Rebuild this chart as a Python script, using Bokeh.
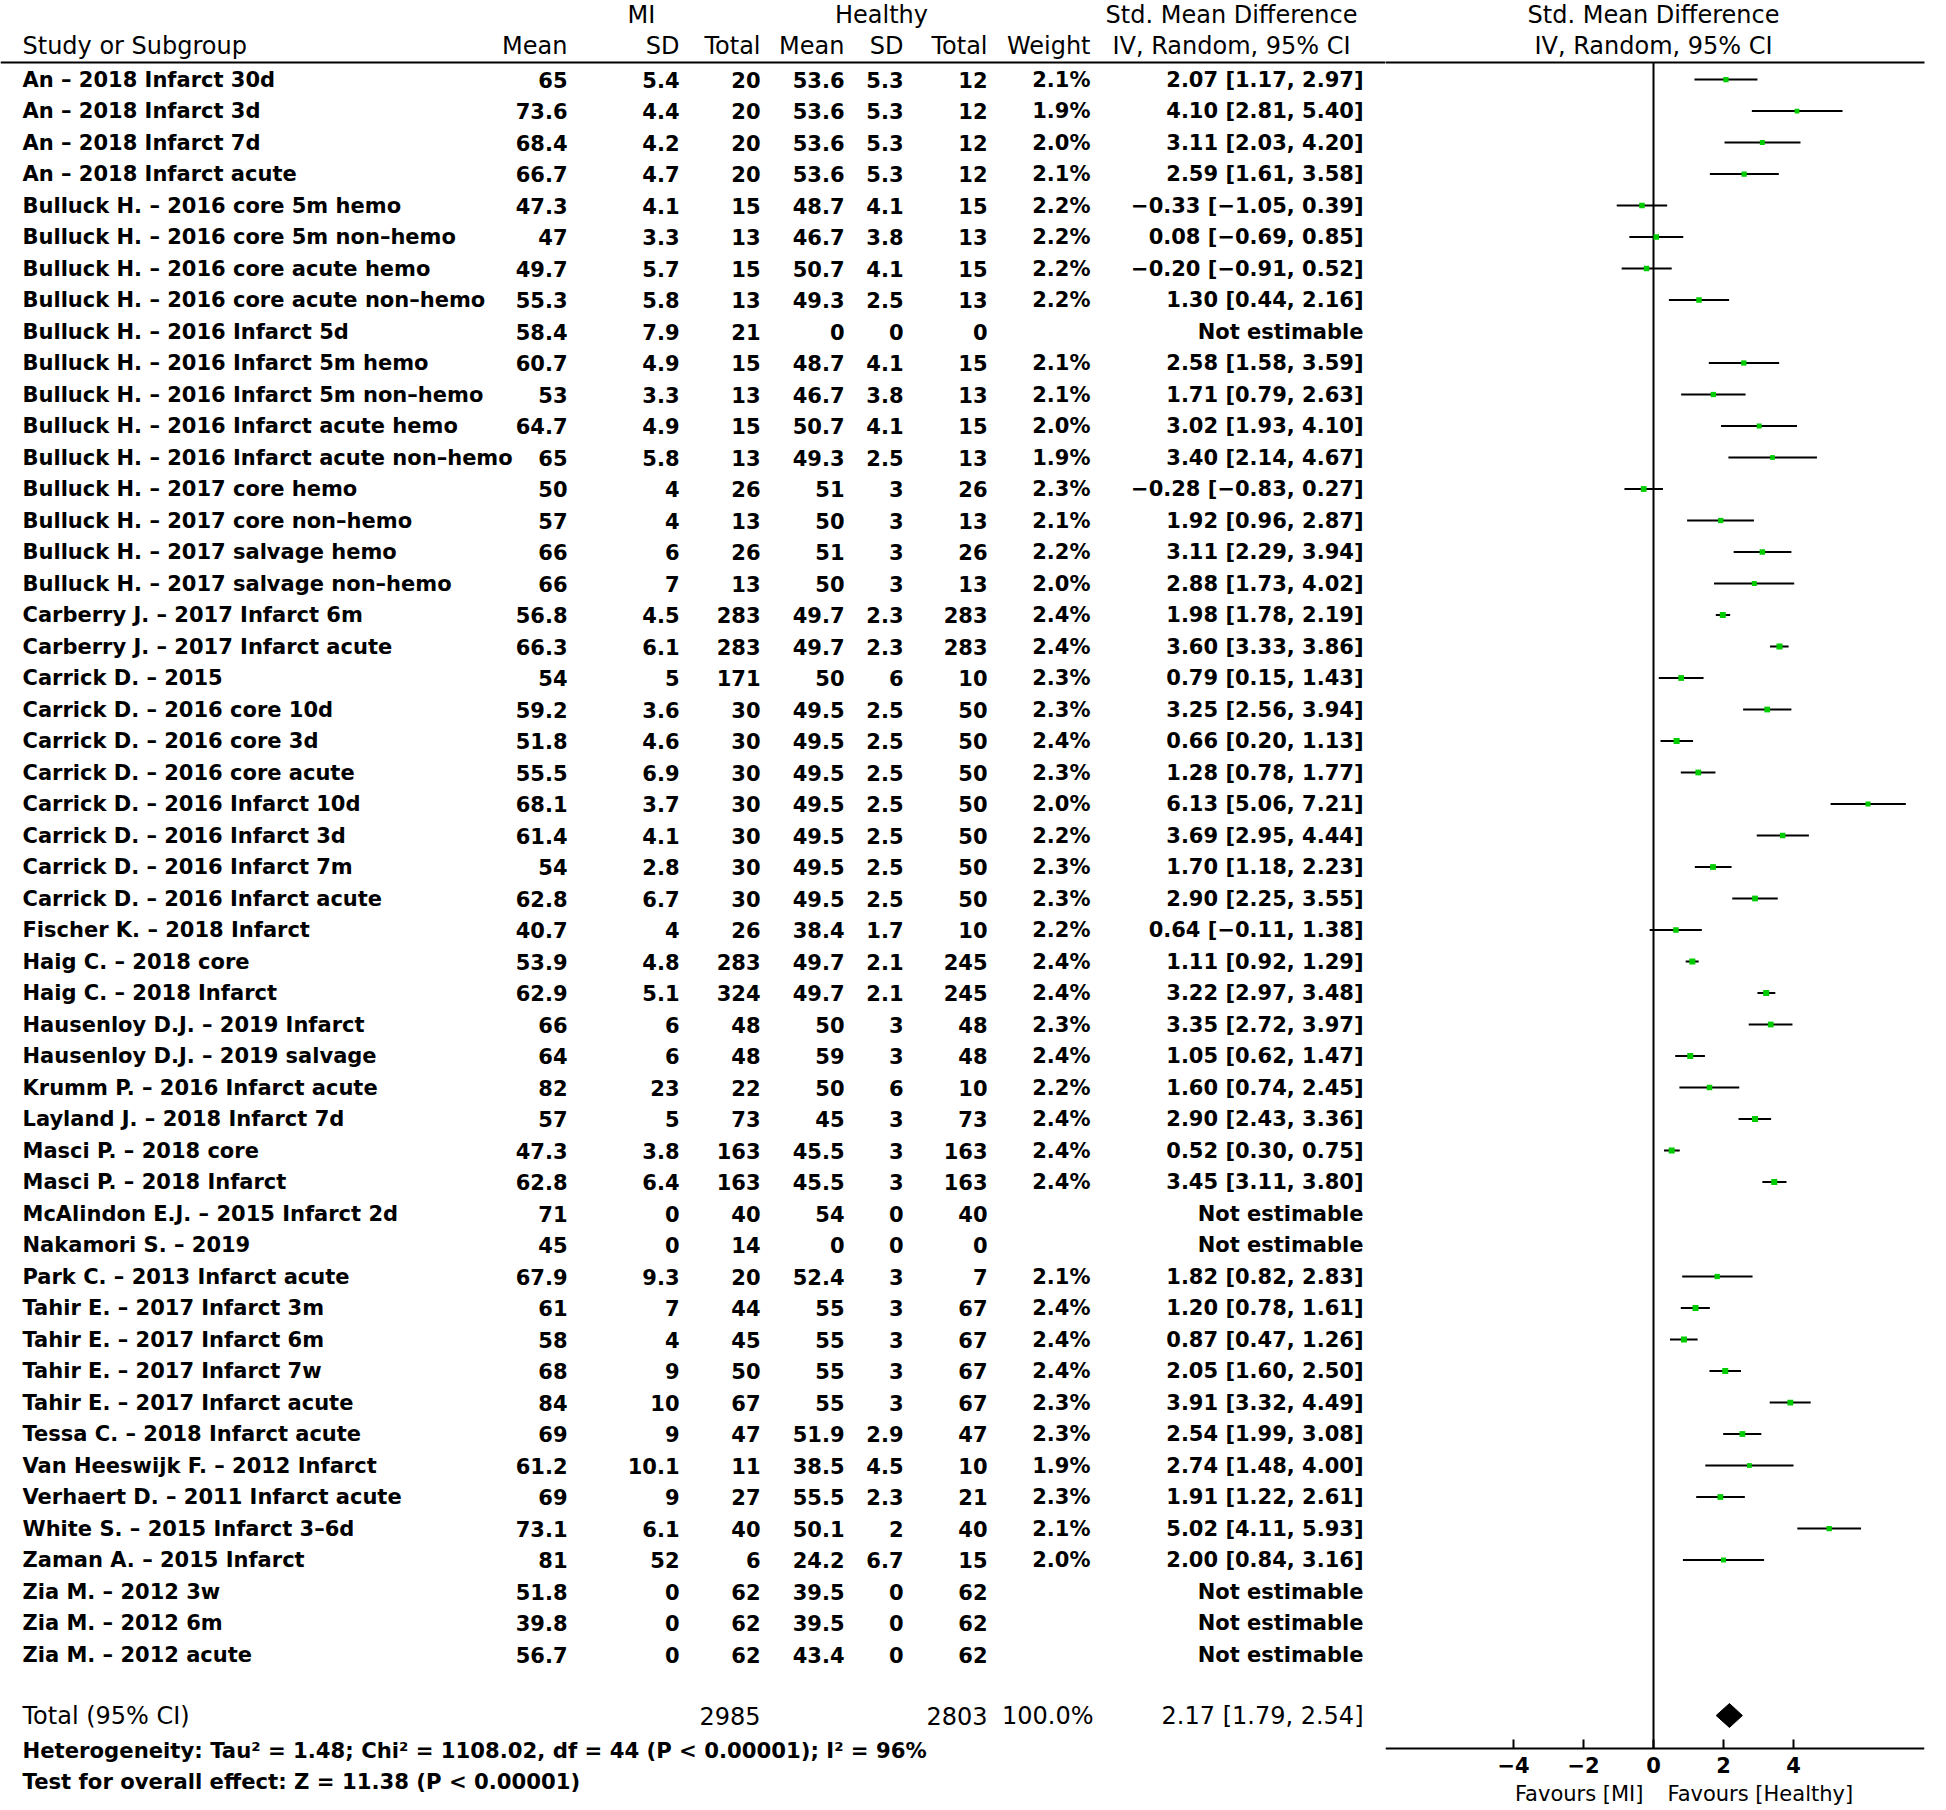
from bokeh.plotting import figure
from bokeh.models import ColumnDataSource, Range1d, FixedTicker, CustomJSTickFormatter
from bokeh.layouts import row
from bokeh.core.properties import value
from bokeh.embed import file_html
from bokeh.resources import INLINE

# ---------------- data ----------------
studies = [
    "An – 2018 Infarct 30d", "An – 2018 Infarct 3d", "An – 2018 Infarct 7d", "An – 2018 Infarct acute",
    "Bulluck H. – 2016 core 5m hemo", "Bulluck H. – 2016 core 5m non–hemo",
    "Bulluck H. – 2016 core acute hemo", "Bulluck H. – 2016 core acute non–hemo",
    "Bulluck H. – 2016 Infarct 5d", "Bulluck H. – 2016 Infarct 5m hemo",
    "Bulluck H. – 2016 Infarct 5m non–hemo", "Bulluck H. – 2016 Infarct acute hemo",
    "Bulluck H. – 2016 Infarct acute non–hemo", "Bulluck H. – 2017 core hemo",
    "Bulluck H. – 2017 core non–hemo", "Bulluck H. – 2017 salvage hemo",
    "Bulluck H. – 2017 salvage non–hemo", "Carberry J. – 2017 Infarct 6m",
    "Carberry J. – 2017 Infarct acute", "Carrick D. – 2015", "Carrick D. – 2016 core 10d",
    "Carrick D. – 2016 core 3d", "Carrick D. – 2016 core acute", "Carrick D. – 2016 Infarct 10d",
    "Carrick D. – 2016 Infarct 3d", "Carrick D. – 2016 Infarct 7m", "Carrick D. – 2016 Infarct acute",
    "Fischer K. – 2018 Infarct", "Haig C. – 2018 core", "Haig C. – 2018 Infarct",
    "Hausenloy D.J. – 2019 Infarct", "Hausenloy D.J. – 2019 salvage", "Krumm P. – 2016 Infarct acute",
    "Layland J. – 2018 Infarct 7d", "Masci P. – 2018 core", "Masci P. – 2018 Infarct",
    "McAlindon E.J. – 2015 Infarct 2d", "Nakamori S. – 2019", "Park C. – 2013 Infarct acute",
    "Tahir E. – 2017 Infarct 3m", "Tahir E. – 2017 Infarct 6m", "Tahir E. – 2017 Infarct 7w",
    "Tahir E. – 2017 Infarct acute", "Tessa C. – 2018 Infarct acute", "Van Heeswijk F. – 2012 Infarct",
    "Verhaert D. – 2011 Infarct acute", "White S. – 2015 Infarct 3–6d", "Zaman A. – 2015 Infarct",
    "Zia M. – 2012 3w", "Zia M. – 2012 6m", "Zia M. – 2012 acute",
]
mi_mean = [65, 73.6, 68.4, 66.7, 47.3, 47, 49.7, 55.3, 58.4, 60.7, 53, 64.7, 65, 50, 57, 66, 66,
           56.8, 66.3, 54, 59.2, 51.8, 55.5, 68.1, 61.4, 54, 62.8, 40.7, 53.9, 62.9, 66, 64, 82, 57,
           47.3, 62.8, 71, 45, 67.9, 61, 58, 68, 84, 69, 61.2, 69, 73.1, 81, 51.8, 39.8, 56.7]
mi_sd = [5.4, 4.4, 4.2, 4.7, 4.1, 3.3, 5.7, 5.8, 7.9, 4.9, 3.3, 4.9, 5.8, 4, 4, 6, 7,
         4.5, 6.1, 5, 3.6, 4.6, 6.9, 3.7, 4.1, 2.8, 6.7, 4, 4.8, 5.1, 6, 6, 23, 5,
         3.8, 6.4, 0, 0, 9.3, 7, 4, 9, 10, 9, 10.1, 9, 6.1, 52, 0, 0, 0]
mi_total = [20, 20, 20, 20, 15, 13, 15, 13, 21, 15, 13, 15, 13, 26, 13, 26, 13,
            283, 283, 171, 30, 30, 30, 30, 30, 30, 30, 26, 283, 324, 48, 48, 22, 73,
            163, 163, 40, 14, 20, 44, 45, 50, 67, 47, 11, 27, 40, 6, 62, 62, 62]
h_mean = [53.6, 53.6, 53.6, 53.6, 48.7, 46.7, 50.7, 49.3, 0, 48.7, 46.7, 50.7, 49.3, 51, 50, 51, 50,
          49.7, 49.7, 50, 49.5, 49.5, 49.5, 49.5, 49.5, 49.5, 49.5, 38.4, 49.7, 49.7, 50, 59, 50, 45,
          45.5, 45.5, 54, 0, 52.4, 55, 55, 55, 55, 51.9, 38.5, 55.5, 50.1, 24.2, 39.5, 39.5, 43.4]
h_sd = [5.3, 5.3, 5.3, 5.3, 4.1, 3.8, 4.1, 2.5, 0, 4.1, 3.8, 4.1, 2.5, 3, 3, 3, 3,
        2.3, 2.3, 6, 2.5, 2.5, 2.5, 2.5, 2.5, 2.5, 2.5, 1.7, 2.1, 2.1, 3, 3, 6, 3,
        3, 3, 0, 0, 3, 3, 3, 3, 3, 2.9, 4.5, 2.3, 2, 6.7, 0, 0, 0]
h_total = [12, 12, 12, 12, 15, 13, 15, 13, 0, 15, 13, 15, 13, 26, 13, 26, 13,
           283, 283, 10, 50, 50, 50, 50, 50, 50, 50, 10, 245, 245, 48, 48, 10, 73,
           163, 163, 40, 0, 7, 67, 67, 67, 67, 47, 10, 21, 40, 15, 62, 62, 62]
weight = [2.1, 1.9, 2.0, 2.1, 2.2, 2.2, 2.2, 2.2, None, 2.1, 2.1, 2.0, 1.9, 2.3, 2.1, 2.2, 2.0,
          2.4, 2.4, 2.3, 2.3, 2.4, 2.3, 2.0, 2.2, 2.3, 2.3, 2.2, 2.4, 2.4, 2.3, 2.4, 2.2, 2.4,
          2.4, 2.4, None, None, 2.1, 2.4, 2.4, 2.4, 2.3, 2.3, 1.9, 2.3, 2.1, 2.0, None, None, None]
smd = [2.07, 4.10, 3.11, 2.59, -0.33, 0.08, -0.20, 1.30, None, 2.58, 1.71, 3.02, 3.40, -0.28, 1.92, 3.11, 2.88,
       1.98, 3.60, 0.79, 3.25, 0.66, 1.28, 6.13, 3.69, 1.70, 2.90, 0.64, 1.11, 3.22, 3.35, 1.05, 1.60, 2.90,
       0.52, 3.45, None, None, 1.82, 1.20, 0.87, 2.05, 3.91, 2.54, 2.74, 1.91, 5.02, 2.00, None, None, None]
ci_lo = [1.17, 2.81, 2.03, 1.61, -1.05, -0.69, -0.91, 0.44, None, 1.58, 0.79, 1.93, 2.14, -0.83, 0.96, 2.29, 1.73,
         1.78, 3.33, 0.15, 2.56, 0.20, 0.78, 5.06, 2.95, 1.18, 2.25, -0.11, 0.92, 2.97, 2.72, 0.62, 0.74, 2.43,
         0.30, 3.11, None, None, 0.82, 0.78, 0.47, 1.60, 3.32, 1.99, 1.48, 1.22, 4.11, 0.84, None, None, None]
ci_hi = [2.97, 5.40, 4.20, 3.58, 0.39, 0.85, 0.52, 2.16, None, 3.59, 2.63, 4.10, 4.67, 0.27, 2.87, 3.94, 4.02,
         2.19, 3.86, 1.43, 3.94, 1.13, 1.77, 7.21, 4.44, 2.23, 3.55, 1.38, 1.29, 3.48, 3.97, 1.47, 2.45, 3.36,
         0.75, 3.80, None, None, 2.83, 1.61, 1.26, 2.50, 4.49, 3.08, 4.00, 2.61, 5.93, 3.16, None, None, None]

total_mi = 2985
total_healthy = 2803
total_weight = 100.0
total_smd, total_lo, total_hi = 2.17, 1.79, 2.54
heterogeneity = "Heterogeneity: Tau² = 1.48; Chi² = 1108.02, df = 44 (P < 0.00001); I² = 96%"
overall_effect = "Test for overall effect: Z = 11.38 (P < 0.00001)"
x_ticks = [-4, -2, 0, 2, 4]
favours_left = "Favours [MI]"
favours_right = "Favours [Healthy]"

# ---------------- helpers ----------------
def num(v):
    return f"{v:g}".replace("-", "−")

def ci_text(s, lo, hi):
    if s is None:
        return "Not estimable"
    return f"{s:.2f} [{lo:.2f}, {hi:.2f}]".replace("-", "−")

n = len(studies)
rows_y = list(range(n))

table = ColumnDataSource(dict(
    y=rows_y,
    study=studies,
    mi_mean=[num(v) for v in mi_mean],
    mi_sd=[num(v) for v in mi_sd],
    mi_total=[num(v) for v in mi_total],
    h_mean=[num(v) for v in h_mean],
    h_sd=[num(v) for v in h_sd],
    h_total=[num(v) for v in h_total],
    weight=["" if w is None else f"{w:.1f}%" for w in weight],
    ci=[ci_text(s, l, h) for s, l, h in zip(smd, ci_lo, ci_hi)],
))

est_idx = [i for i in range(n) if smd[i] is not None]
forest = ColumnDataSource(dict(
    y=[rows_y[i] for i in est_idx],
    smd=[smd[i] for i in est_idx],
    lo=[ci_lo[i] for i in est_idx],
    hi=[ci_hi[i] for i in est_idx],
    msize=[weight[i] * 2.5 for i in est_idx],
))

# ---------------- geometry (row units: row i sits at 79 + 31.5*i px) ----------------
H = 1808
ROW0_PX, ROW_PX = 79.0, 31.5
def r(px):
    return (px - ROW0_PX) / ROW_PX

Y_TOP = r(0)
Y_BOTTOM = r(H)
Y_HEAD1 = r(14)
Y_HEAD2 = r(45)
Y_RULE = r(62)
Y_TOTAL = r(1715)
Y_HET = r(1750)
Y_TEST = r(1781)
Y_AXIS = r(1748)
Y_FAV = r(1793)

FONT = value("DejaVu Sans")
BODY = dict(text_font=FONT, text_font_style="bold", text_font_size="21px",
            text_color="black", text_baseline="middle")
FOOT = dict(text_font=FONT, text_font_style="bold", text_font_size="21.2px",
            text_color="black", text_baseline="middle")
HEAD = dict(text_font=FONT, text_font_style="normal", text_font_size="24px",
            text_color="black", text_baseline="middle")
TOT = dict(text_font=FONT, text_font_style="normal", text_font_size="24px",
           text_color="black", text_baseline="middle")

# ---------------- left: table ----------------
left = figure(width=1385, height=H, x_range=Range1d(0, 1385),
              y_range=Range1d(Y_BOTTOM, Y_TOP),
              x_axis_type=None, y_axis_type=None, toolbar_location=None,
              output_backend="svg", min_border=0, outline_line_color=None)

left.text(x=22, y="y", text="study", source=table, text_align="left", **BODY)
cols = [("mi_mean", 567, "Mean"), ("mi_sd", 679, "SD"), ("mi_total", 760, "Total"),
        ("h_mean", 844, "Mean"), ("h_sd", 903, "SD"), ("h_total", 987, "Total"),
        ("weight", 1090, "Weight"), ("ci", 1363, None)]
for key, xr, head in cols:
    left.text(x=xr, y="y", text=key, source=table, text_align="right", **BODY)
    if head:
        left.text(x=[xr], y=[Y_HEAD2], text=[head], text_align="right", **HEAD)

left.text(x=[22], y=[Y_HEAD2], text=["Study or Subgroup"], text_align="left", **HEAD)
left.text(x=[641, 881, 1231], y=[Y_HEAD1] * 3, text=["MI", "Healthy", "Std. Mean Difference"],
          text_align="center", **HEAD)
left.text(x=[1231], y=[Y_HEAD2], text=["IV, Random, 95% CI"], text_align="center", **HEAD)
left.segment(x0=0, x1=1385, y0=Y_RULE, y1=Y_RULE, line_width=2, line_color="black")

left.text(x=[22], y=[Y_TOTAL], text=["Total (95% CI)"], text_align="left", **TOT)
left.text(x=[760, 987, 1093, 1363], y=[Y_TOTAL] * 4,
          text=[str(total_mi), str(total_healthy), f"{total_weight:.1f}%",
                ci_text(total_smd, total_lo, total_hi)],
          text_align="right", **TOT)
left.text(x=[22, 22], y=[Y_HET, Y_TEST], text=[heterogeneity, overall_effect],
          text_align="left", **FOOT)

# ---------------- right: forest ----------------
PX_PER_UNIT, ZERO_PX = 35.0, 1653.0
FRAME_L, FRAME_R = 1385, 1924
right = figure(width=1946 - 2 - FRAME_L, height=H,
               x_range=Range1d((FRAME_L - ZERO_PX) / PX_PER_UNIT, (FRAME_R - ZERO_PX) / PX_PER_UNIT),
               y_range=Range1d(Y_BOTTOM, Y_TOP),
               y_axis_type=None, toolbar_location=None, output_backend="svg",
               min_border_left=0, min_border_top=0, min_border_bottom=0,
               min_border_right=1946 - 2 - FRAME_R, outline_line_color=None)
right.xgrid.visible = False
ax = right.xaxis[0]
ax.fixed_location = Y_AXIS
ax.ticker = FixedTicker(ticks=x_ticks)
ax.formatter = CustomJSTickFormatter(code="return tick < 0 ? '\\u2212' + Math.abs(tick) : String(tick)")
ax.minor_tick_line_color = None
ax.major_tick_in = 9
ax.major_tick_out = 0
ax.axis_line_width = 2
ax.major_tick_line_width = 2
ax.major_label_text_font = "DejaVu Sans"
ax.major_label_text_font_style = "bold"
ax.major_label_text_font_size = "21px"
ax.major_label_text_color = "black"
ax.major_label_standoff = 8
ax.axis_line_color = "black"
ax.major_tick_line_color = "black"

right.segment(x0=-8, x1=8, y0=Y_RULE, y1=Y_RULE, line_width=2, line_color="black")
right.segment(x0=0, x1=0, y0=Y_RULE, y1=Y_AXIS, line_width=2, line_color="black")
right.segment(x0="lo", x1="hi", y0="y", y1="y", source=forest, line_width=2, line_color="black")
right.scatter(x="smd", y="y", size="msize", marker="square", source=forest,
              fill_color="#00cc00", line_color=None)
dh = 0.38
right.patch(x=[total_lo, total_smd, total_hi, total_smd],
            y=[Y_TOTAL, Y_TOTAL - dh, Y_TOTAL, Y_TOTAL + dh],
            fill_color="black", line_color="black")
right.text(x=[0, 0], y=[Y_HEAD1, Y_HEAD2], text=["Std. Mean Difference", "IV, Random, 95% CI"],
           text_align="center", **HEAD)
right.text(x=[-10 / PX_PER_UNIT], y=[Y_FAV], text=[favours_left], text_align="right",
           text_baseline="middle", text_font=FONT, text_font_size="21px", text_color="black")
right.text(x=[14 / PX_PER_UNIT], y=[Y_FAV], text=[favours_right], text_align="left",
           text_baseline="middle", text_font=FONT, text_font_size="21px", text_color="black")

layout = row(left, right)
open("out.html", "w").write(file_html(layout, INLINE))
